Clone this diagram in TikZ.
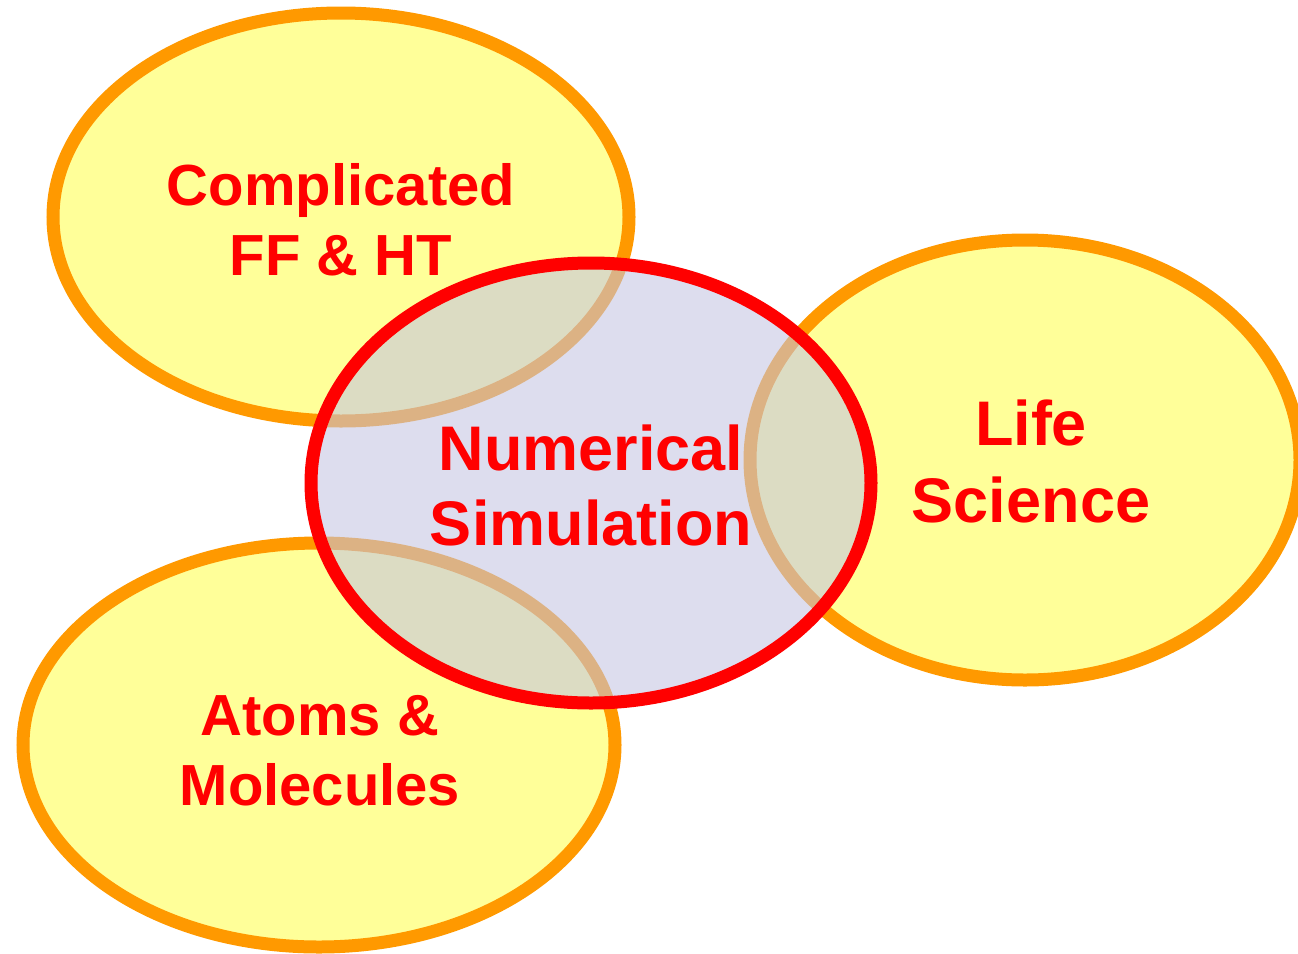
\documentclass[tikz,border=0pt]{standalone}
\usepackage{fontspec}
\setmainfont{Liberation Sans}
\definecolor{ffyellow}{RGB}{255,255,153}
\definecolor{fforange}{RGB}{255,153,0}
\definecolor{lav}{RGB}{197,197,226}
\definecolor{txtred}{RGB}{255,0,0}
\begin{document}
\begin{tikzpicture}[x=1pt,y=-1pt,
  yellowell/.style={fill=ffyellow,draw=fforange,line width=13pt},
  lbl/.style={text=txtred,font=\bfseries,anchor=base,inner sep=0pt},
  smalltxt/.style={lbl,font=\fontsize{58}{70}\selectfont\bfseries},
  bigtxt/.style={lbl,font=\fontsize{63}{75}\selectfont\bfseries}]
\useasboundingbox (0,0) rectangle (1298,953);
\coordinate (ctl) at (341,217);
\coordinate (cbl) at (319,745);
\coordinate (cr) at (1025,460);
\coordinate (cc) at (591,483);
% outer topic ellipses
\draw[yellowell] (ctl) ellipse [x radius=288, y radius=204];
\draw[yellowell] (cbl) ellipse [x radius=296, y radius=202];
\draw[yellowell] (cr) ellipse [x radius=275, y radius=220];
% central ellipse
\fill[lav,fill opacity=0.59] (cc) ellipse [x radius=280, y radius=220];
\draw[txtred,line width=13pt] (cc) ellipse [x radius=280, y radius=220];
% labels
\node[smalltxt] (t1) at (341,205) {Complicated};
\node[smalltxt] (t2) at (341,275) {FF \& HT};
\node[bigtxt] (n1) at (591,470) {Numerical};
\node[bigtxt] (n2) at (591,545) {Simulation};
\node[bigtxt] (l1) at (1031,445) {Life};
\node[bigtxt] (l2) at (1031,522) {Science};
\node[smalltxt] (a1) at (320,735) {Atoms \&};
\node[smalltxt] (a2) at (320,805) {Molecules};
\end{tikzpicture}
\end{document}
